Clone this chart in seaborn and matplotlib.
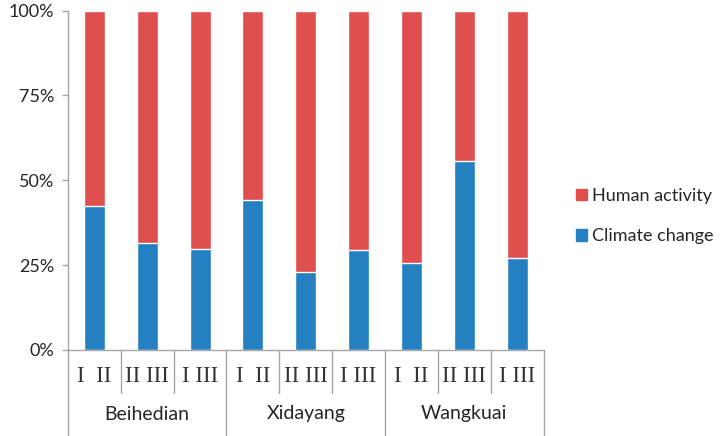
import matplotlib
matplotlib.use("Agg")
import matplotlib.pyplot as plt
import matplotlib.patches as mpatches
import matplotlib.transforms as mtransforms
import seaborn as sns
import pandas as pd
import numpy as np

groups = ["Beihedian", "Xidayang", "Wangkuai"]
periods = ["I  II", "II III", "I III"]
climate_change = [42.4, 31.6, 29.8, 44.1, 22.9, 29.5, 25.6, 55.7, 27.2]
human_activity = [57.6, 68.4, 70.2, 55.9, 77.1, 70.5, 74.4, 44.3, 72.8]

RED = "#DE4F4D"
BLUE = "#2580C2"
GRAY = "#A6A6A6"

sns.set_theme(style="white")
plt.rcParams["font.family"] = ["Lato", "DejaVu Sans"]

cats = [f"{g}|{p}" for g in groups for p in periods]
df = pd.DataFrame({
    "cat": cats,
    "climate": climate_change,
    "total": np.array(climate_change) + np.array(human_activity),
})

fig = plt.figure(figsize=(7.26, 4.36), dpi=100)
ax = fig.add_axes([68.0/726, 1-350.0/436, (543.5-68.0)/726, (350.0-10.5)/436])

sns.barplot(data=df, x="cat", y="total", color=RED, width=0.4, ax=ax,
            saturation=1, order=cats)
sns.barplot(data=df, x="cat", y="climate", color=BLUE, width=0.4, ax=ax,
            saturation=1, order=cats)

ax.set_xlim(-0.5, len(cats) - 0.5)
ax.set_ylim(0, 100)
ax.set_yticks([0, 25, 50, 75, 100])
ax.set_yticklabels([f"{v}%" for v in [0, 25, 50, 75, 100]])
ax.set_xticks([])
ax.set_xlabel("")
ax.set_ylabel("")
for s in ["top", "right"]:
    ax.spines[s].set_visible(False)
for s in ["left", "bottom"]:
    ax.spines[s].set_color(GRAY)
    ax.spines[s].set_linewidth(1.0)
ax.tick_params(axis="y", which="both", left=True, length=4, width=1.0,
               color=GRAY, labelsize=13, labelcolor="#262626", pad=6)

# multi-level category axis
trans = mtransforms.blended_transform_factory(ax.transData, ax.transAxes)
h_ax = (350.0 - 10.5)
def ay(py):
    return (350.0 - py) / h_ax

for i in range(len(cats) + 1):
    x = i - 0.5
    is_group = (i % len(periods) == 0)
    y1 = ay(436.0) if is_group else ay(393.0)
    ax.plot([x, x], [0, y1], color=GRAY, lw=1.0, transform=trans, clip_on=False)

for i, c in enumerate(cats):
    p = periods[i % len(periods)]
    ax.text(i, ay(377.0), p, transform=trans, ha="center", va="center",
            fontsize=16.5, family=["Liberation Serif", "DejaVu Serif"],
            color="#333333")

for gi, g in enumerate(groups):
    xc = gi * len(periods) + (len(periods) - 1) / 2
    ax.text(xc, ay(414.0), g, transform=trans, ha="center", va="center",
            fontsize=14, color="#262626")

handles = [mpatches.Patch(color=RED, label="Human activity"),
           mpatches.Patch(color=BLUE, label="Climate change")]
fig.legend(handles=handles, loc="center left",
           bbox_to_anchor=(576/726, 1-216/436), frameon=False, borderpad=0,
           borderaxespad=0, fontsize=13, handlelength=0.6, handleheight=0.6,
           handletextpad=0.3, labelspacing=1.35, labelcolor="#262626")

fig.savefig("out.png", dpi=100)
